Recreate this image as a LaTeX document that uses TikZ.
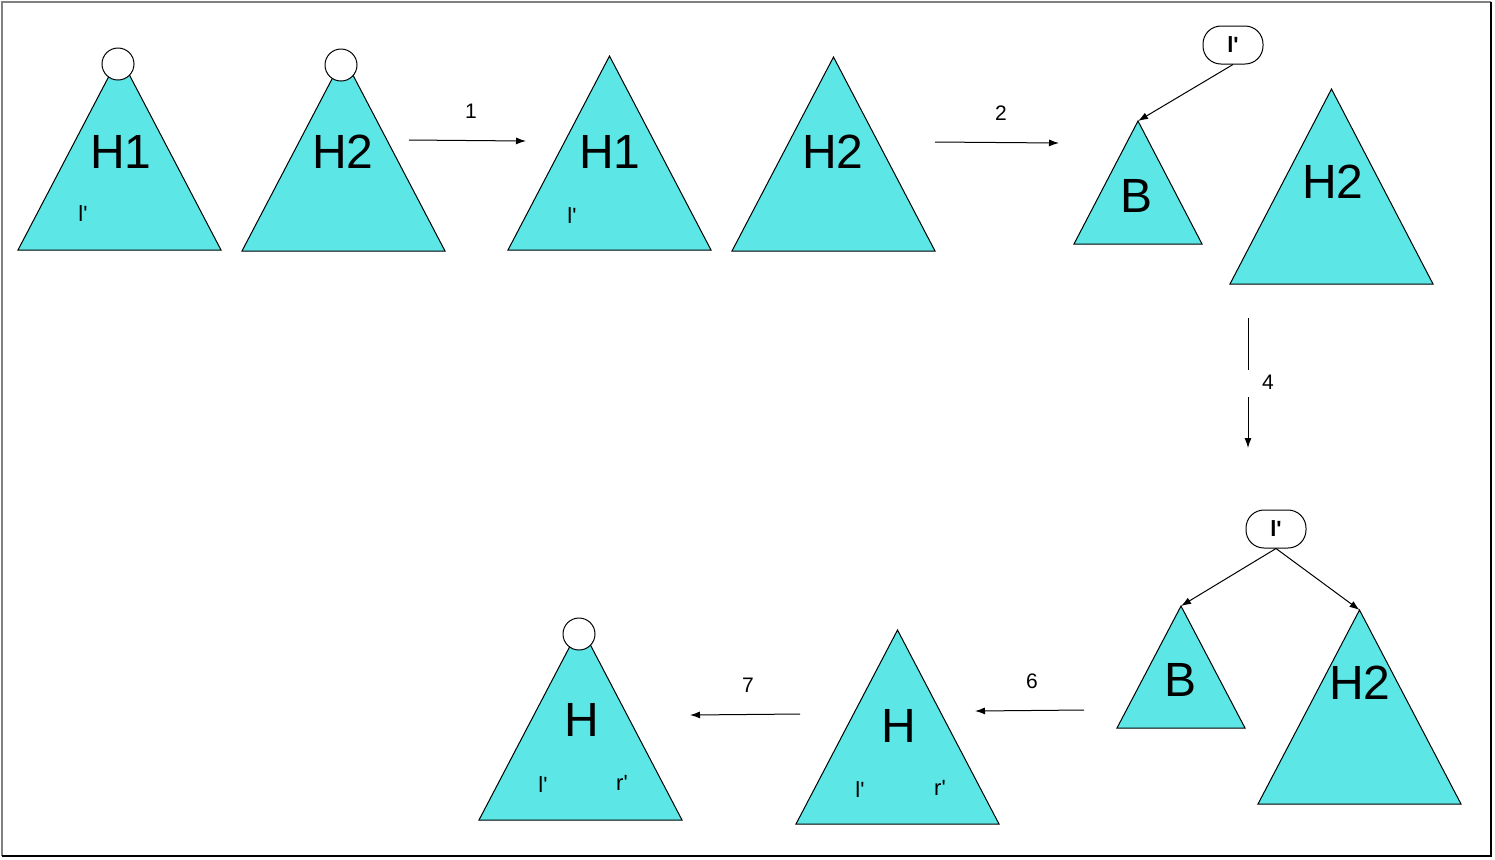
\documentclass[tikz,border=0pt]{standalone}
\usepackage{fontspec}
\setmainfont{Liberation Sans}[Ligatures=TeXOff]
\usetikzlibrary{arrows.meta}
\definecolor{tri}{RGB}{92,230,230}
\begin{document}
\begin{tikzpicture}[x=0.5pt,y=-0.5pt,
  tribox/.style={fill=tri,draw=black,line width=0.5pt},
  big/.style={font=\fontsize{24}{28}\selectfont,inner sep=0pt},
  small/.style={font=\fontsize{11}{12}\selectfont,inner sep=0pt},
  num/.style={font=\fontsize{10.5}{12}\selectfont,inner sep=0pt},
  lnode/.style={draw,line width=0.5pt,rounded corners=9pt,minimum width=30pt,minimum height=19pt,inner sep=0pt,font=\bfseries\fontsize{11}{12}\selectfont},
  arr/.style={-{Latex[length=5pt,width=3.5pt]},line width=0.5pt},
  root/.style={circle,draw,line width=0.5pt,fill=white,minimum size=16pt,inner sep=0pt}]
\useasboundingbox (0,0) rectangle (1495,859);
% frame
\draw[gray,line width=1pt] (1.5,856) -- (1.5,1.5) -- (1491,1.5);
\draw[black,line width=0.7pt] (1491,1.5) -- (1491,856) -- (1.5,856);

% triangles: apex coordinates
\coordinate (t1) at (119.5,56);
\coordinate (t2) at (343.5,57);
\coordinate (t3) at (609.5,56);
\coordinate (t4) at (833.5,57);
\coordinate (t5) at (1138,121);
\coordinate (t6) at (1331.5,89);
\coordinate (t7) at (1181,606);
\coordinate (t8) at (1359.5,610);
\coordinate (t9) at (897.5,630);
\coordinate (t10) at (580.5,626);

\draw[tribox] (t1) -- (18,250) -- (221,250) -- cycle;
\draw[tribox] (t2) -- (242,251) -- (445,251) -- cycle;
\draw[tribox] (t3) -- (508,250) -- (711,250) -- cycle;
\draw[tribox] (t4) -- (732,251) -- (935,251) -- cycle;
\draw[tribox] (t5) -- (1074,244) -- (1202,244) -- cycle;
\draw[tribox] (t6) -- (1230,284) -- (1433,284) -- cycle;
\draw[tribox] (t7) -- (1117,728) -- (1245,728) -- cycle;
\draw[tribox] (t8) -- (1258,804) -- (1461,804) -- cycle;
\draw[tribox] (t9) -- (796,824) -- (999,824) -- cycle;
\draw[tribox] (t10) -- (479,820) -- (682,820) -- cycle;

% roots
\node[root] (r1) at (118,64) {};
\node[root] (r2) at (341,65) {};
\node[root] (r10) at (579,634) {};

% labels
\node[big] (h1a) at (121,152) {H1};
\node[small] (l1) at (83,214) {l'};
\node[big] (h2a) at (343,152) {H2};
\node[big] (h1b) at (610,152) {H1};
\node[small] (l3) at (572,216) {l'};
\node[big] (h2b) at (833,152) {H2};
\node[big] (b1) at (1136,196) {B};
\node[big] (h2c) at (1333,182) {H2};
\node[big] (b2) at (1180,680) {B};
\node[big] (h2d) at (1360,683) {H2};
\node[big] (ha) at (899,726) {H};
\node[small] (l9) at (860,790) {l'};
\node[small] (r9) at (940,788) {r'};
\node[big] (hb) at (582,720) {H};
\node[small] (l10) at (543,785) {l'};
\node[small] (r10t) at (622,783) {r'};

% l' nodes
\node[lnode] (ltop) at (1233,45) {l'};
\node[lnode] (lbot) at (1276,529) {l'};
\draw[arr] (ltop.south) -- (t5);
\draw[arr] (lbot.south) -- (t7);
\draw[arr] (lbot.south) -- (t8);

% step arrows
\coordinate (a1s) at (409,140); \coordinate (a1e) at (526,141);
\draw[arr] (a1s) -- (a1e);
\node[num] (n1) at (471,111) {1};
\coordinate (a2s) at (935,142); \coordinate (a2e) at (1059,143);
\draw[arr] (a2s) -- (a2e);
\node[num] (n2) at (1001,113) {2};
\coordinate (a4s) at (1248,318); \coordinate (a4e) at (1248,448);
\draw[arr] (a4s) -- node[fill=white,inner sep=0pt,minimum width=3pt,minimum height=13.5pt]{} (a4e);
\node[num] (n4) at (1268,382) {4};
\coordinate (a6s) at (1084,710); \coordinate (a6e) at (975,711);
\draw[arr] (a6s) -- (a6e);
\node[num] (n6) at (1032,681) {6};
\coordinate (a7s) at (800,714); \coordinate (a7e) at (690,715);
\draw[arr] (a7s) -- (a7e);
\node[num] (n7) at (748,685) {7};
\end{tikzpicture}
\end{document}
